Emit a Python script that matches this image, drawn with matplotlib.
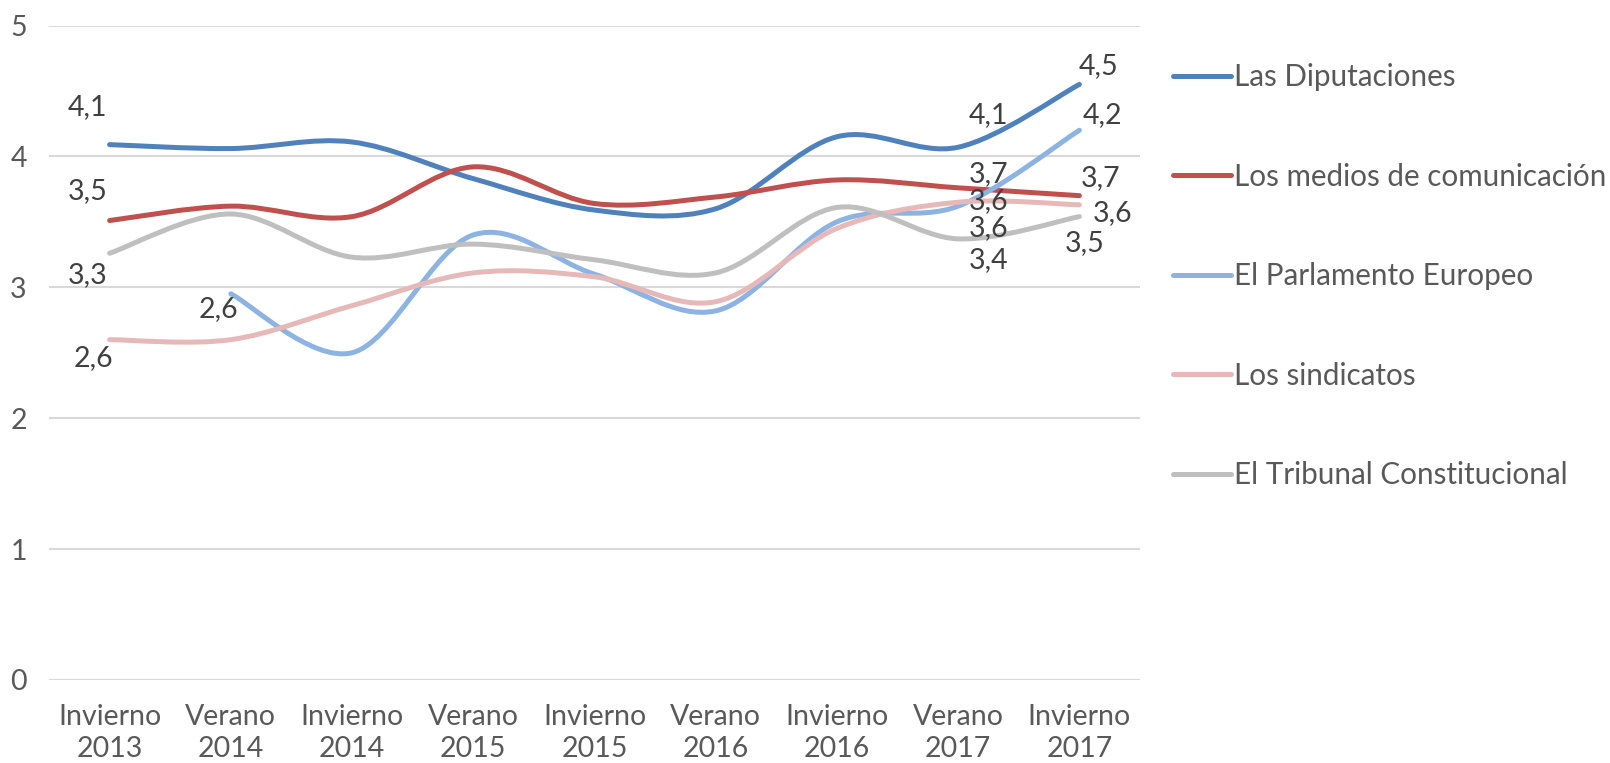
import numpy as np
import matplotlib.pyplot as plt
from matplotlib.path import Path
from matplotlib.patches import PathPatch
from matplotlib.lines import Line2D

# categorias del eje x
periodos = ['Invierno\n2013', 'Verano\n2014', 'Invierno\n2014', 'Verano\n2015',
            'Invierno\n2015', 'Verano\n2016', 'Invierno\n2016', 'Verano\n2017',
            'Invierno\n2017']

series_names = ['Las Diputaciones', 'Los medios de comunicación',
                'El Parlamento Europeo', 'Los sindicatos',
                'El Tribunal Constitucional']

diputaciones = [4.09, 4.06, 4.11, 3.83, 3.59, 3.60, 4.15, 4.07, 4.55]
medios = [3.51, 3.62, 3.54, 3.92, 3.64, 3.69, 3.82, 3.76, 3.70]
parlamento = [np.nan, 2.95, 2.50, 3.40, 3.10, 2.82, 3.50, 3.62, 4.20]
sindicatos = [2.60, 2.60, 2.86, 3.11, 3.08, 2.89, 3.45, 3.65, 3.63]
tribunal = [3.26, 3.56, 3.23, 3.33, 3.21, 3.11, 3.61, 3.37, 3.54]

# etiquetas de datos (indice -> texto)
lbl_diputaciones = {0: '4,1', 7: '4,1', 8: '4,5'}
lbl_medios = {0: '3,5', 7: '3,7', 8: '3,7'}
lbl_parlamento = {1: '2,6', 7: '3,6', 8: '4,2'}
lbl_sindicatos = {0: '2,6', 7: '3,6', 8: '3,6'}
lbl_tribunal = {0: '3,3', 7: '3,4', 8: '3,5'}

colors = ['#4F81BD', '#C0504D', '#8DB3E2', '#E6B9B8', '#BFBFBF']

# desplazamientos de las etiquetas en puntos
offsets = [
    {0: (-16, 27), 7: (22, 23), 8: (14, 13)},
    {0: (-16, 21), 7: (22, 10), 8: (15, 13)},
    {1: (-9, -11), 7: (22, -16), 8: (17, 11)},
    {0: (-12, -13), 7: (22, 1), 8: (24, -6)},
    {0: (-16, -16), 7: (22, -15), 8: (4, -19)},
]


def smooth_path(xs, ys):
    pts = np.column_stack([xs, ys])
    n = len(pts)
    verts = [pts[0]]
    codes = [Path.MOVETO]
    for i in range(n - 1):
        p0 = pts[max(i - 1, 0)]
        p1 = pts[i]
        p2 = pts[i + 1]
        p3 = pts[min(i + 2, n - 1)]
        verts += [p1 + (p2 - p0) / 6, p2 - (p3 - p1) / 6, p2]
        codes += [Path.CURVE4] * 3
    return Path(verts, codes)


plt.rcParams['font.family'] = ['Lato', 'DejaVu Sans']
fig = plt.figure(figsize=(16.1, 7.63), dpi=100)
ax = fig.add_axes([49 / 1610, 1 - 680 / 763, (1140 - 49) / 1610, (680 - 25.5) / 763])

x = np.arange(len(periodos))
all_series = [diputaciones, medios, parlamento, sindicatos, tribunal]
all_labels = [lbl_diputaciones, lbl_medios, lbl_parlamento, lbl_sindicatos, lbl_tribunal]

for vals, col, lbls, offs in zip(all_series, colors, all_labels, offsets):
    vals = np.array(vals, dtype=float)
    ok = ~np.isnan(vals)
    path = smooth_path(x[ok], vals[ok])
    ax.add_patch(PathPatch(path, fill=False, edgecolor=col, lw=3.6,
                           capstyle='round', joinstyle='round', zorder=3))
    for i, txt in lbls.items():
        ax.annotate(txt, (x[i], vals[i]), xytext=offs[i], textcoords='offset points',
                    ha='center', va='center', fontsize=20.5, color='#404040', zorder=4)

ax.set_xlim(-0.5, len(periodos) - 0.5)
ax.set_ylim(0, 5)
ax.set_yticks(range(0, 6))
ax.set_xticks(x)
ax.set_xticklabels(periodos, linespacing=1.3)
ax.grid(axis='y', color='#D9D9D9', lw=1.5)
ax.set_axisbelow(True)
for s in ax.spines.values():
    s.set_visible(False)
ax.tick_params(axis='both', length=0, labelsize=20.5, labelcolor='#595959')
ax.tick_params(axis='y', pad=16)
ax.tick_params(axis='x', pad=17)

handles = [Line2D([], [], color=c, lw=3.6, solid_capstyle='round') for c in colors]
fig.legend(handles, series_names, loc='upper left', bbox_to_anchor=(1173 / 1610, 1 - 63 / 763),
           frameon=False, fontsize=21.3, labelcolor='#595959', handlelength=1.95,
           handletextpad=0.1, labelspacing=2.42, borderpad=0, borderaxespad=0)

fig.savefig('out.png', dpi=100)
